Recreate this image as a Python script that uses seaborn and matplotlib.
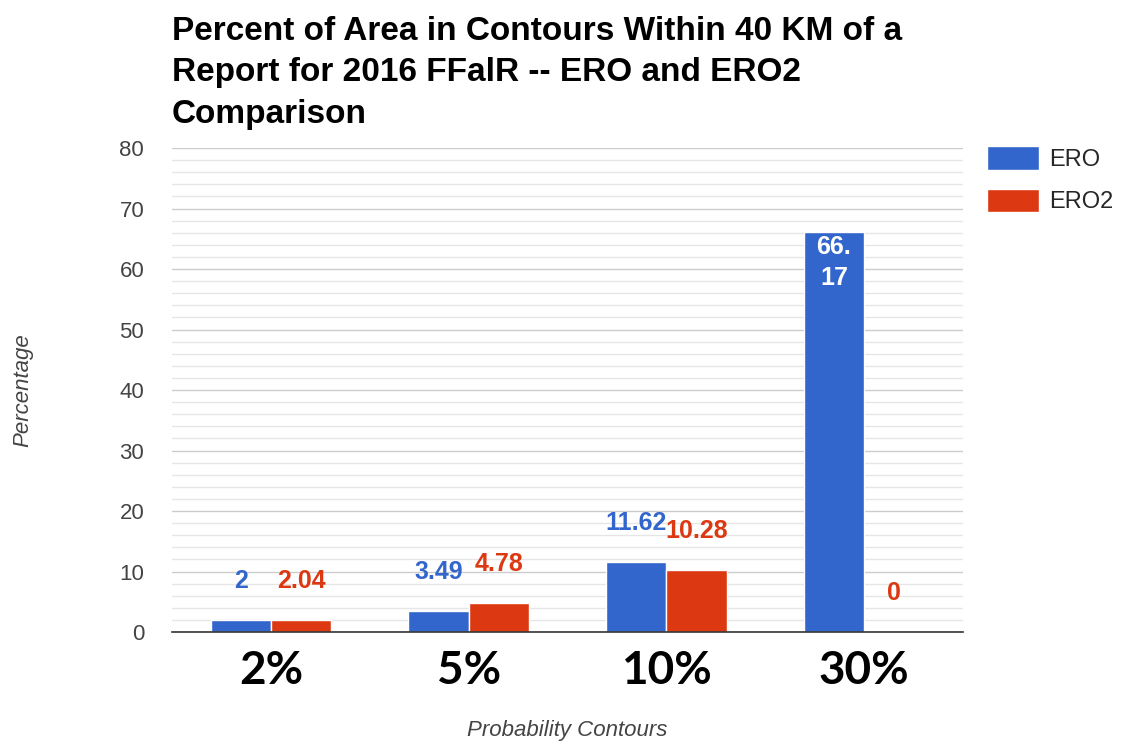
import pandas as pd
import matplotlib
matplotlib.use("Agg")
import matplotlib.pyplot as plt
from matplotlib.ticker import MultipleLocator
import seaborn as sns

# chart data
contours = ["2%", "5%", "10%", "30%"]
series = ["ERO", "ERO2"]
ero = [2, 3.49, 11.62, 66.17]
ero2 = [2.04, 4.78, 10.28, 0]
colors = ["#3366cc", "#dc3912"]

df = pd.DataFrame({
    "contour": contours * 2,
    "value": ero + ero2,
    "series": [series[0]] * len(ero) + [series[1]] * len(ero2),
})

sns.set_style("white")
plt.rcParams["font.family"] = ["Liberation Sans", "DejaVu Sans"]

fig = plt.figure(figsize=(11.27, 7.44), dpi=100)
ax = fig.add_axes([0.1526, 0.1505, 0.7019, 0.6505])

sns.barplot(data=df, x="contour", y="value", hue="series", order=contours,
            hue_order=series, palette=colors, width=0.61, edgecolor="white",
            linewidth=1, saturation=1, ax=ax)

# grid: major every 10, minor every 2
ax.set_ylim(0, 80)
ax.yaxis.set_major_locator(MultipleLocator(10))
ax.yaxis.set_minor_locator(MultipleLocator(2))
ax.grid(axis="y", which="major", color="#cccccc", linewidth=1)
ax.grid(axis="y", which="minor", color="#e6e6e6", linewidth=1)
ax.set_axisbelow(True)
for s in ["top", "right", "left"]:
    ax.spines[s].set_visible(False)
ax.spines["bottom"].set_color("#333333")
ax.spines["bottom"].set_linewidth(1.2)

ax.tick_params(axis="y", which="both", length=0, pad=20, labelsize=16, labelcolor="#444444")
ax.tick_params(axis="x", length=0, pad=13)
for lab in ax.get_xticklabels():
    lab.set_fontfamily("Lato")
    lab.set_fontweight("bold")
    lab.set_fontsize(33)
    lab.set_color("black")

ax.set_xlabel("Probability Contours", fontsize=16, style="italic", color="#444444")
ax.set_ylabel("Percentage", fontsize=16, style="italic", color="#444444")
ax.xaxis.set_label_coords(0.5, -0.182)
ax.yaxis.set_label_coords(-0.175, 0.5)

# value labels
for cont, vals, col in zip(ax.containers, [ero, ero2], colors):
    for bar, v in zip(cont, vals):
        x = bar.get_x() + bar.get_width() / 2
        txt = f"{v:g}"
        if v > 60:
            ax.annotate(txt.replace(".", ".\n"), (x, v), xytext=(0, -2),
                        textcoords="offset points", ha="center", va="top",
                        fontsize=18, fontweight="bold", color="white", linespacing=1.4)
        else:
            ax.annotate(txt, (x, v), xytext=(0, 28), textcoords="offset points",
                        ha="center", va="center", fontsize=18, fontweight="bold", color=col)

ax.legend(loc="upper left", bbox_to_anchor=(1.03, 1.004), frameon=False,
          fontsize=17, handlelength=2.2, handleheight=1.15, labelspacing=0.75,
          handletextpad=0.45, borderpad=0, borderaxespad=0)
ax.get_legend().set_title(None)

fig.text(0.1526, 0.978, "Percent of Area in Contours Within 40 KM of a\nReport for 2016 FFalR -- ERO and ERO2\nComparison",
         ha="left", va="top", fontsize=24, fontweight="bold", color="black", linespacing=1.42)

fig.savefig("out.png", dpi=100)
